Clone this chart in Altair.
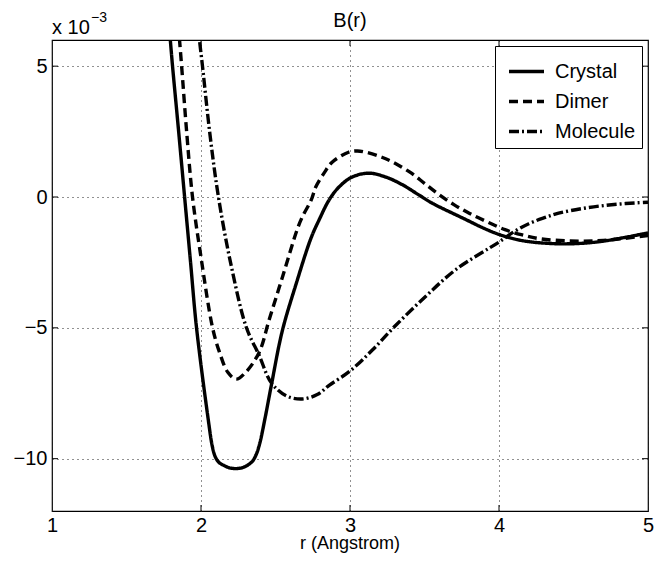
import altair as alt
import pandas as pd

FONT = "Liberation Sans"

series_names = ["Crystal", "Dimer", "Molecule"]

crystal_r = [1.785, 1.794, 1.809, 1.85, 1.890, 1.93, 1.970, 2.048, 2.075, 2.095, 2.12, 2.154, 2.191, 2.232, 2.273, 2.310, 2.345, 2.37, 2.395, 2.43, 2.472, 2.545, 2.639, 2.739, 2.793, 2.860, 2.926, 3.013, 3.127, 3.241, 3.348, 3.462, 3.55, 3.78, 3.9, 4.0, 4.1, 4.22, 4.44, 4.67, 5.0]
crystal_b = [6.6, 6.0, 5.0, 2.5, 0.0, -2.5, -5.0, -8.48, -9.5, -9.92, -10.14, -10.26, -10.35, -10.38, -10.35, -10.26, -10.1, -9.85, -9.4, -8.45, -7.2, -5.13, -3.31, -1.56, -0.87, -0.11, 0.38, 0.76, 0.91, 0.76, 0.48, 0.08, -0.23, -0.87, -1.2, -1.43, -1.6, -1.72, -1.79, -1.71, -1.37]

dimer_r = [1.848, 1.856, 1.870, 1.905, 1.943, 2.0, 2.077, 2.124, 2.18, 2.237, 2.30, 2.391, 2.458, 2.55, 2.645, 2.68, 2.74, 2.77, 2.83, 2.88, 2.99, 3.05, 3.107, 3.214, 3.308, 3.415, 3.5, 3.6, 3.7, 3.8, 3.92, 4.04, 4.15, 4.28, 4.48, 4.7, 5.0]
dimer_b = [6.6, 6.0, 5.0, 2.4, 0.0, -2.3, -4.98, -5.93, -6.7, -6.96, -6.7, -5.93, -4.68, -3.0, -1.25, -0.76, -0.11, 0.38, 0.95, 1.33, 1.71, 1.76, 1.71, 1.52, 1.27, 0.9, 0.52, 0.08, -0.3, -0.62, -0.95, -1.25, -1.44, -1.6, -1.68, -1.66, -1.47]

molecule_r = [1.982, 1.99, 2.01, 2.06, 2.117, 2.204, 2.304, 2.39, 2.472, 2.572, 2.679, 2.78, 2.86, 3.0, 3.15, 3.294, 3.50, 3.709, 4.003, 4.1, 4.2, 4.3, 4.4, 4.55, 4.7, 4.85, 5.0]
molecule_b = [6.6, 6.0, 5.0, 2.4, 0.0, -2.66, -4.98, -6.05, -7.1, -7.6, -7.72, -7.55, -7.2, -6.65, -5.85, -4.98, -3.84, -2.78, -1.71, -1.33, -1.02, -0.8, -0.62, -0.45, -0.33, -0.25, -0.2]

x_ticks = [1, 2, 3, 4, 5]
y_ticks = [-10, -5, 0, 5]
x_inner_ticks = [2, 3, 4]

W, H = 596, 471

rows = []
for name, rs, bs in [("Crystal", crystal_r, crystal_b), ("Dimer", dimer_r, dimer_b), ("Molecule", molecule_r, molecule_b)]:
    for r, b in zip(rs, bs):
        rows.append({"r": r, "B": b, "series": name})
df = pd.DataFrame(rows)

xscale = alt.Scale(domain=[1, 5], nice=False, zero=False)
yscale = alt.Scale(domain=[-12, 6], nice=False, zero=False)

xaxis = alt.Axis(values=x_ticks, title=None, grid=True, ticks=False,
                 labelPadding=4, labelFlush=False, format="d")
yaxis = alt.Axis(values=y_ticks, title=None, grid=True, ticks=False,
                 labelPadding=5, labelFlush=False, format="d")

lines = alt.Chart(df).mark_line(clip=True, interpolate="catmull-rom", color="black",
                                strokeWidth=3.4).encode(
    x=alt.X("r:Q", scale=xscale, axis=xaxis),
    y=alt.Y("B:Q", scale=yscale, axis=yaxis),
    strokeDash=alt.StrokeDash(
        "series:N",
        scale=alt.Scale(domain=series_names, range=[[1, 0], [9, 5], [10, 3, 2, 3]]),
        legend=alt.Legend(title=None, orient="none", legendX=443, legendY=6,
                          fillColor="white", strokeColor="black", padding=6,
                          symbolOffset=6, symbolType="stroke", symbolSize=1225,
                          symbolStrokeWidth=3.6, symbolStrokeColor="black",
                          labelFontSize=20, labelFont=FONT, labelColor="black",
                          labelOffset=9, rowPadding=0),
    ),
    detail="series:N",
)

xt = pd.DataFrame({"t": x_inner_ticks})
yt = pd.DataFrame({"t": y_ticks})

ticks_bottom = alt.Chart(xt).mark_rule(color="black", strokeWidth=1).encode(
    x=alt.X("t:Q", scale=xscale), y=alt.value(H), y2=alt.value(H - 6))
ticks_top = alt.Chart(xt).mark_rule(color="black", strokeWidth=1).encode(
    x=alt.X("t:Q", scale=xscale), y=alt.value(0), y2=alt.value(6))
ticks_left = alt.Chart(yt).mark_rule(color="black", strokeWidth=1).encode(
    y=alt.Y("t:Q", scale=yscale), x=alt.value(0), x2=alt.value(6))
ticks_right = alt.Chart(yt).mark_rule(color="black", strokeWidth=1).encode(
    y=alt.Y("t:Q", scale=yscale), x=alt.value(W), x2=alt.value(W - 6))

title_text = alt.Chart(pd.DataFrame({"t": ["B(r)"]})).mark_text(
    align="center", baseline="alphabetic", fontSize=20, font=FONT, color="black").encode(
    text="t:N", x=alt.value(W / 2), y=alt.value(-13))
xtitle_text = alt.Chart(pd.DataFrame({"t": ["r (Angstrom)"]})).mark_text(
    align="center", baseline="alphabetic", fontSize=18, font=FONT, color="black").encode(
    text="t:N", x=alt.value(W / 2), y=alt.value(H + 38))
exp_base = alt.Chart(pd.DataFrame({"t": ["x 10"]})).mark_text(
    align="left", baseline="alphabetic", fontSize=20, font=FONT, color="black").encode(
    text="t:N", x=alt.value(0), y=alt.value(-6))
exp_sup = alt.Chart(pd.DataFrame({"t": ["\u22123"]})).mark_text(
    align="left", baseline="alphabetic", fontSize=14, font=FONT, color="black").encode(
    text="t:N", x=alt.value(39), y=alt.value(-18))

chart = alt.layer(lines, ticks_bottom, ticks_top, ticks_left, ticks_right,
                  title_text, xtitle_text, exp_base, exp_sup).properties(
    width=W, height=H,
    background="white",
    autosize=alt.AutoSizeParams(type="none"),
    padding={"left": 44, "top": 32, "right": 6, "bottom": 42},
).configure_view(stroke="black", strokeWidth=1.2).configure_axis(
    labelFont=FONT, labelFontSize=20, labelColor="black",
    domain=False, gridColor="#222", gridDash=[1, 4], gridWidth=1, gridOpacity=1,
)

chart.save("out.html", embed_options={"renderer": "svg", "actions": False})
